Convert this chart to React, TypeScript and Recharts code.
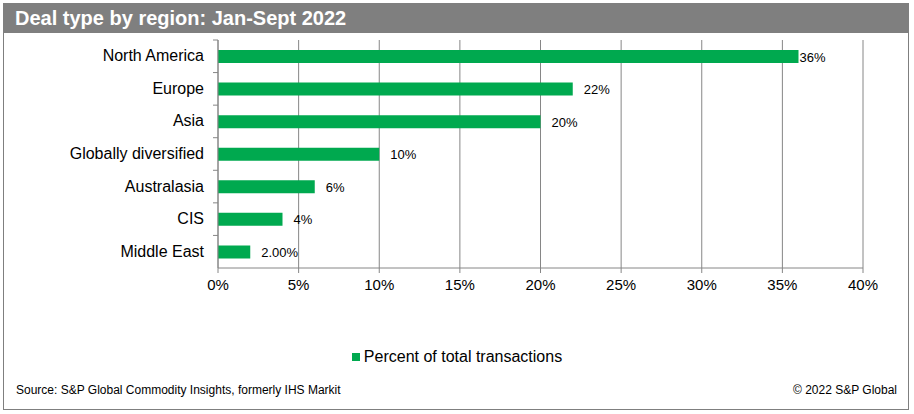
import React from 'react';
import { Bar, BarChart, CartesianGrid, LabelList, XAxis, YAxis } from 'recharts';

const regions = ['North America', 'Europe', 'Asia', 'Globally diversified', 'Australasia', 'CIS', 'Middle East'];
const shares = [36, 22, 20, 10, 6, 4, 2];
const shareLabels = ['36%', '22%', '20%', '10%', '6%', '4%', '2.00%'];
const xTicks = [0, 5, 10, 15, 20, 25, 30, 35, 40];

const data = regions.map((region, i) => ({ region, share: shares[i], label: shareLabels[i] }));

const FONT = '"Liberation Sans", Arial, sans-serif';
const GREEN = '#00a94f';
const GRID = '#868686';
const PLOT_TOP = 40;
const PLOT_BOTTOM = 268;
const BAND = (PLOT_BOTTOM - PLOT_TOP) / regions.length;

function RegionTick(props: any) {
  const { y, payload } = props;
  return (
    <g>
      <text x={204} y={y} dy={5} textAnchor="end" fontSize={16} fill="#000" fontFamily={FONT}>
        {payload.value}
      </text>
      <line x1={213} x2={218} y1={y - BAND / 2} y2={y - BAND / 2} stroke={GRID} />
    </g>
  );
}

function ValueLabel(props: any) {
  const { x, y, width, height, value, index } = props;
  const gap = index === 0 ? 1 : 11;
  return (
    <text x={x + width + gap} y={y + height / 2} dy={5} fontSize={13} fill="#000" fontFamily={FONT}>
      {value}
    </text>
  );
}

export default function App() {
  return (
    <div style={{ position: 'absolute', left: 0, top: 0, width: 914, height: 414, background: '#fff', fontFamily: FONT }}>
      <div style={{ position: 'absolute', left: 3, top: 3, width: 904, height: 405, border: '1px solid #7f7f7f' }} />
      <div
        style={{
          position: 'absolute', left: 4, top: 3, width: 904, height: 30, background: '#7f7f7f',
          color: '#fff', fontWeight: 'bold', fontSize: 20, lineHeight: '30px', paddingLeft: 11, boxSizing: 'border-box',
        }}
      >
        Deal type by region: Jan-Sept 2022
      </div>
      <div style={{ position: 'absolute', left: 0, top: 0 }}>
        <BarChart
          width={914}
          height={414}
          data={data}
          layout="vertical"
          margin={{ top: PLOT_TOP, right: 51, bottom: 414 - PLOT_BOTTOM - 30, left: 8 }}
          barSize={13}
        >
          <CartesianGrid horizontal={false} stroke={GRID} />
          <XAxis
            type="number"
            dataKey="share"
            domain={[0, 40]}
            ticks={xTicks}
            tickFormatter={(v: number) => `${v}%`}
            height={30}
            tickSize={5}
            tickMargin={6}
            axisLine={{ stroke: GRID }}
            tickLine={{ stroke: GRID }}
            tick={{ fontSize: 15, fill: '#000', fontFamily: FONT }}
            interval={0}
          />
          <YAxis
            type="category"
            dataKey="region"
            width={210}
            axisLine={{ stroke: GRID }}
            tickLine={false}
            tick={<RegionTick />}
            interval={0}
          />
          <Bar dataKey="share" name="Percent of total transactions" fill={GREEN} isAnimationActive={false}>
            <LabelList dataKey="label" content={<ValueLabel />} />
          </Bar>
        </BarChart>
      </div>
      <div
        style={{
          position: 'absolute', left: 0, top: 348, width: 914, display: 'flex', alignItems: 'center',
          justifyContent: 'center', fontSize: 16, color: '#000',
        }}
      >
        <span style={{ display: 'inline-block', width: 8, height: 8, background: GREEN, marginRight: 4 }} />
        <span>Percent of total transactions</span>
      </div>
      <div style={{ position: 'absolute', left: 16, top: 383, fontSize: 12, color: '#000' }}>
        Source: S&amp;P Global Commodity Insights, formerly IHS Markit
      </div>
      <div style={{ position: 'absolute', right: 17, top: 383, fontSize: 12, color: '#000' }}>
        © 2022 S&amp;P Global
      </div>
    </div>
  );
}
